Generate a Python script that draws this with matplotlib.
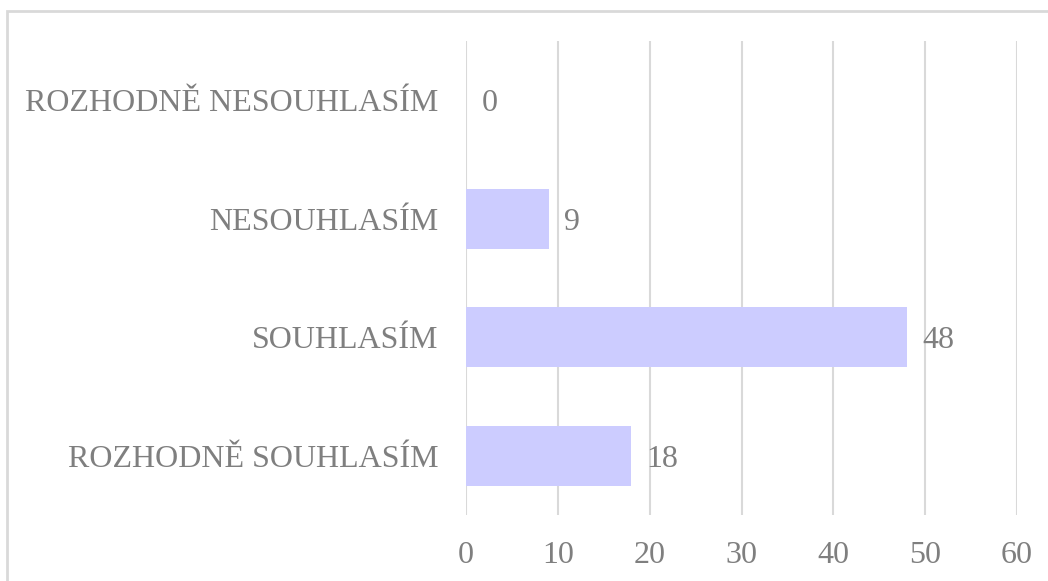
import matplotlib
matplotlib.use("Agg")
import matplotlib.pyplot as plt
from matplotlib.patches import Rectangle

categories = ["ROZHODNĚ SOUHLASÍM", "SOUHLASÍM", "NESOUHLASÍM", "ROZHODNĚ NESOUHLASÍM"]
values = [18, 48, 9, 0]
xticks = [0, 10, 20, 30, 40, 50, 60]

plt.rcParams['font.family'] = ['Liberation Serif', 'DejaVu Serif']
text_color = '#7F7F7F'

fig = plt.figure(figsize=(10.48, 5.81), dpi=100)
fig.patches.append(Rectangle((7/1048, -0.1), 1.2, 1 - 11/581 + 0.1, transform=fig.transFigure,
                             fill=False, edgecolor='#D9D9D9', linewidth=2))
ax = fig.add_axes([466/1048, 1 - 515/581, (1017-466)/1048, (515-41)/581])

bars = ax.barh(range(len(categories)), values, height=0.51, color='#CCCCFF', zorder=3)
ax.set_yticks(range(len(categories)))
ax.set_yticklabels(categories)
ax.set_ylim(-0.5, len(categories) - 0.5)
ax.set_xlim(0, 60)
ax.set_xticks(xticks)
ax.set_xticklabels([str(t) for t in xticks])
ax.grid(axis='x', color='#D9D9D9', linewidth=1.5, zorder=0)
ax.tick_params(axis='both', length=0, labelsize=23, labelcolor=text_color)
ax.tick_params(axis='y', pad=20)
ax.tick_params(axis='x', pad=19)
for s in ax.spines.values():
    s.set_visible(False)
for i, v in enumerate(values):
    ax.annotate(str(v), xy=(v, i), xytext=(11, -2.5), textcoords='offset points',
                ha='left', va='center', fontsize=23, color=text_color)

fig.savefig("out.png", dpi=100)
